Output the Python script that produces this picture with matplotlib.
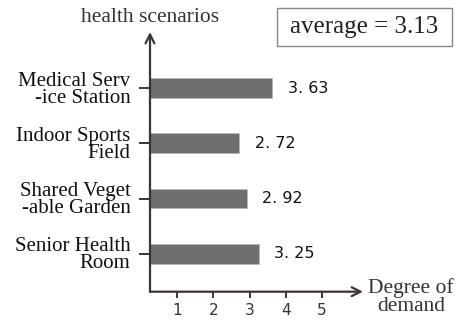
import matplotlib
matplotlib.use("Agg")
import matplotlib.pyplot as plt

# data
scenarios = ["Senior Health\nRoom", "Shared Veget\n-able Garden",
             "Indoor Sports\nField", "Medical Serv\n-ice Station"]
demand = [3.25, 2.92, 2.72, 3.63]
value_labels = ["3. 25", "2. 92", "2. 72", "3. 63"]
x_ticks = [1, 2, 3, 4, 5]
average = 3.13

W, H = 464, 326
fig = plt.figure(figsize=(W / 100, H / 100), dpi=100)
ax = fig.add_axes([150 / W, (H - 291.7) / H, (363 - 150) / W, (291.7 - 32) / H])

axis_col = "#3d3535"
serif = "Liberation Serif"

pos = list(range(len(scenarios)))
ax.barh(pos, demand, height=0.36, color="#6f6f6f", edgecolor="#b8b8b8", linewidth=0.6)
ax.set_xlim(0.25, 6.13)
ax.set_ylim(-0.69, 4.02)

for sp in ax.spines.values():
    sp.set_visible(False)

# axis arrows
ax.annotate("", xy=(0, 1), xytext=(0, 0), xycoords="axes fraction",
            arrowprops=dict(arrowstyle="->", color=axis_col, lw=1.6,
                            shrinkA=0, shrinkB=0, mutation_scale=16))
ax.annotate("", xy=(1, 0), xytext=(0, 0), xycoords="axes fraction",
            arrowprops=dict(arrowstyle="->", color=axis_col, lw=1.6,
                            shrinkA=0, shrinkB=0, mutation_scale=16))

ax.set_yticks(pos)
ax.set_yticklabels(scenarios, fontfamily=serif, fontsize=15, linespacing=0.88)
ax.tick_params(axis="y", length=8, width=1.4, color=axis_col, pad=6, labelcolor="#111111")
ax.set_xticks(x_ticks)
ax.set_xticklabels([str(t) for t in x_ticks], fontsize=11, color="#333333")
ax.tick_params(axis="x", length=4, width=1.4, color=axis_col, pad=4)

for p, v, lab in zip(pos, demand, value_labels):
    ax.annotate(lab, xy=(v, p), xytext=(11, 0), textcoords="offset points",
                va="center", ha="left", fontsize=11.5, color="#111111")

fig.text(150 / W, 1 - 17 / H, "health scenarios", ha="center", va="center",
         fontfamily=serif, fontsize=15.5, color="#333333")
fig.text(411 / W, 1 - 297 / H, "Degree of\ndemand", ha="center", va="center",
         fontfamily=serif, fontsize=15.5, color="#333333", linespacing=0.95)
fig.text(364 / W, 1 - 27 / H, "average = %.2f" % average, ha="center", va="center",
         fontfamily=serif, fontsize=18, color="#222222")
box = plt.Rectangle((277 / W, 1 - 46 / H), (452 - 277) / W, 38 / H,
                    transform=fig.transFigure, fill=False, edgecolor="#888888", lw=1.0)
fig.add_artist(box)

fig.savefig("out.png", dpi=100)
